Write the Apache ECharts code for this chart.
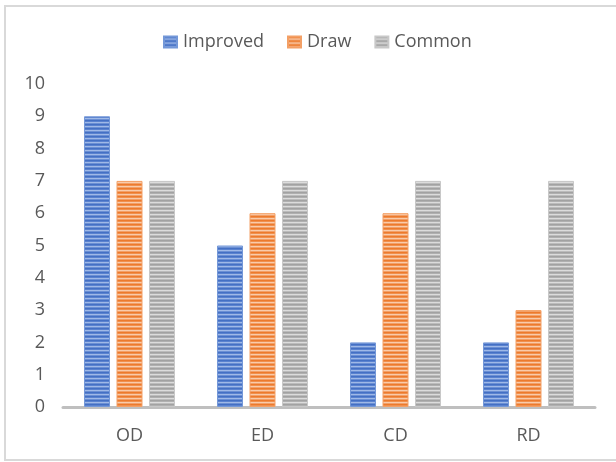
<!DOCTYPE html>
<html>
<head>
<meta charset="utf-8">
<script src="https://cdn.jsdelivr.net/npm/echarts@6/dist/echarts.min.js"></script>
<style>
  html, body { margin: 0; padding: 0; background: #fff; }
  #chart { width: 616px; height: 462px; }
</style>
</head>
<body>
<div id="chart"></div>
<script>
// Categories, series and tick settings
const categories = ['OD', 'ED', 'CD', 'RD'];
const improved = [9, 5, 2, 2];
const draw = [7, 6, 6, 3];
const common = [7, 7, 7, 7];
const seriesNames = ['Improved', 'Draw', 'Common'];
const yMin = 0, yMax = 10, yStep = 1;

// Horizontal striped fill, built as a small repeating canvas tile
function stripes(rows) {
  const c = document.createElement('canvas');
  c.width = 4; c.height = rows.length;
  const g = c.getContext('2d');
  rows.forEach((col, i) => { g.fillStyle = col; g.fillRect(0, i, 4, 1); });
  return { image: c, repeat: 'repeat' };
}
const bluePat = stripes(['#4470c4', '#5a82cf', '#9fb9e7', '#6b8fd4']);
const orangePat = stripes(['#ed7a2c', '#f0904e', '#f9cbaa', '#f2a068']);
const grayPat = stripes(['#a2a2a2', '#b0b0b0', '#dcdcdc', '#bcbcbc']);

const font = 'Open Sans';
const chart = echarts.init(document.getElementById('chart'), null, { renderer: 'canvas' });
chart.setOption({
  animation: false,
  backgroundColor: '#ffffff',
  textStyle: { fontFamily: font },
  graphic: [{
    type: 'rect', silent: true, z: -10,
    shape: { x: 5, y: 6, width: 640, height: 454 },
    style: { fill: 'transparent', stroke: '#d9d9d9', lineWidth: 2 }
  }],
  legend: {
    top: 28, left: 158,
    itemWidth: 13, itemHeight: 11, itemGap: 23,
    icon: 'rect',
    textStyle: { fontFamily: font, fontSize: 18, color: '#595959', padding: [0, 0, 0, 1] },
    data: seriesNames
  },
  grid: { left: 63, right: 21, top: 84, bottom: 55, containLabel: false },
  xAxis: {
    type: 'category', data: categories,
    axisLine: { lineStyle: { color: '#bfbfbf', width: 3 } },
    axisTick: { show: false },
    axisLabel: { color: '#595959', fontSize: 18, fontFamily: font, margin: 20 }
  },
  yAxis: {
    type: 'value', min: yMin, max: yMax, interval: yStep,
    axisLine: { show: false }, axisTick: { show: false },
    splitLine: { show: false },
    axisLabel: { color: '#595959', fontSize: 18, fontFamily: font, margin: 18 }
  },
  series: [
    { name: seriesNames[0], type: 'bar', data: improved, barWidth: 26, barGap: '25%',
      itemStyle: { color: bluePat, borderColor: '#7498d8', borderWidth: 1 } },
    { name: seriesNames[1], type: 'bar', data: draw, barWidth: 26, barGap: '25%',
      itemStyle: { color: orangePat, borderColor: '#f3a066', borderWidth: 1 } },
    { name: seriesNames[2], type: 'bar', data: common, barWidth: 26, barGap: '25%',
      itemStyle: { color: grayPat, borderColor: '#c8c8c8', borderWidth: 1 } }
  ]
});
</script>
</body>
</html>
